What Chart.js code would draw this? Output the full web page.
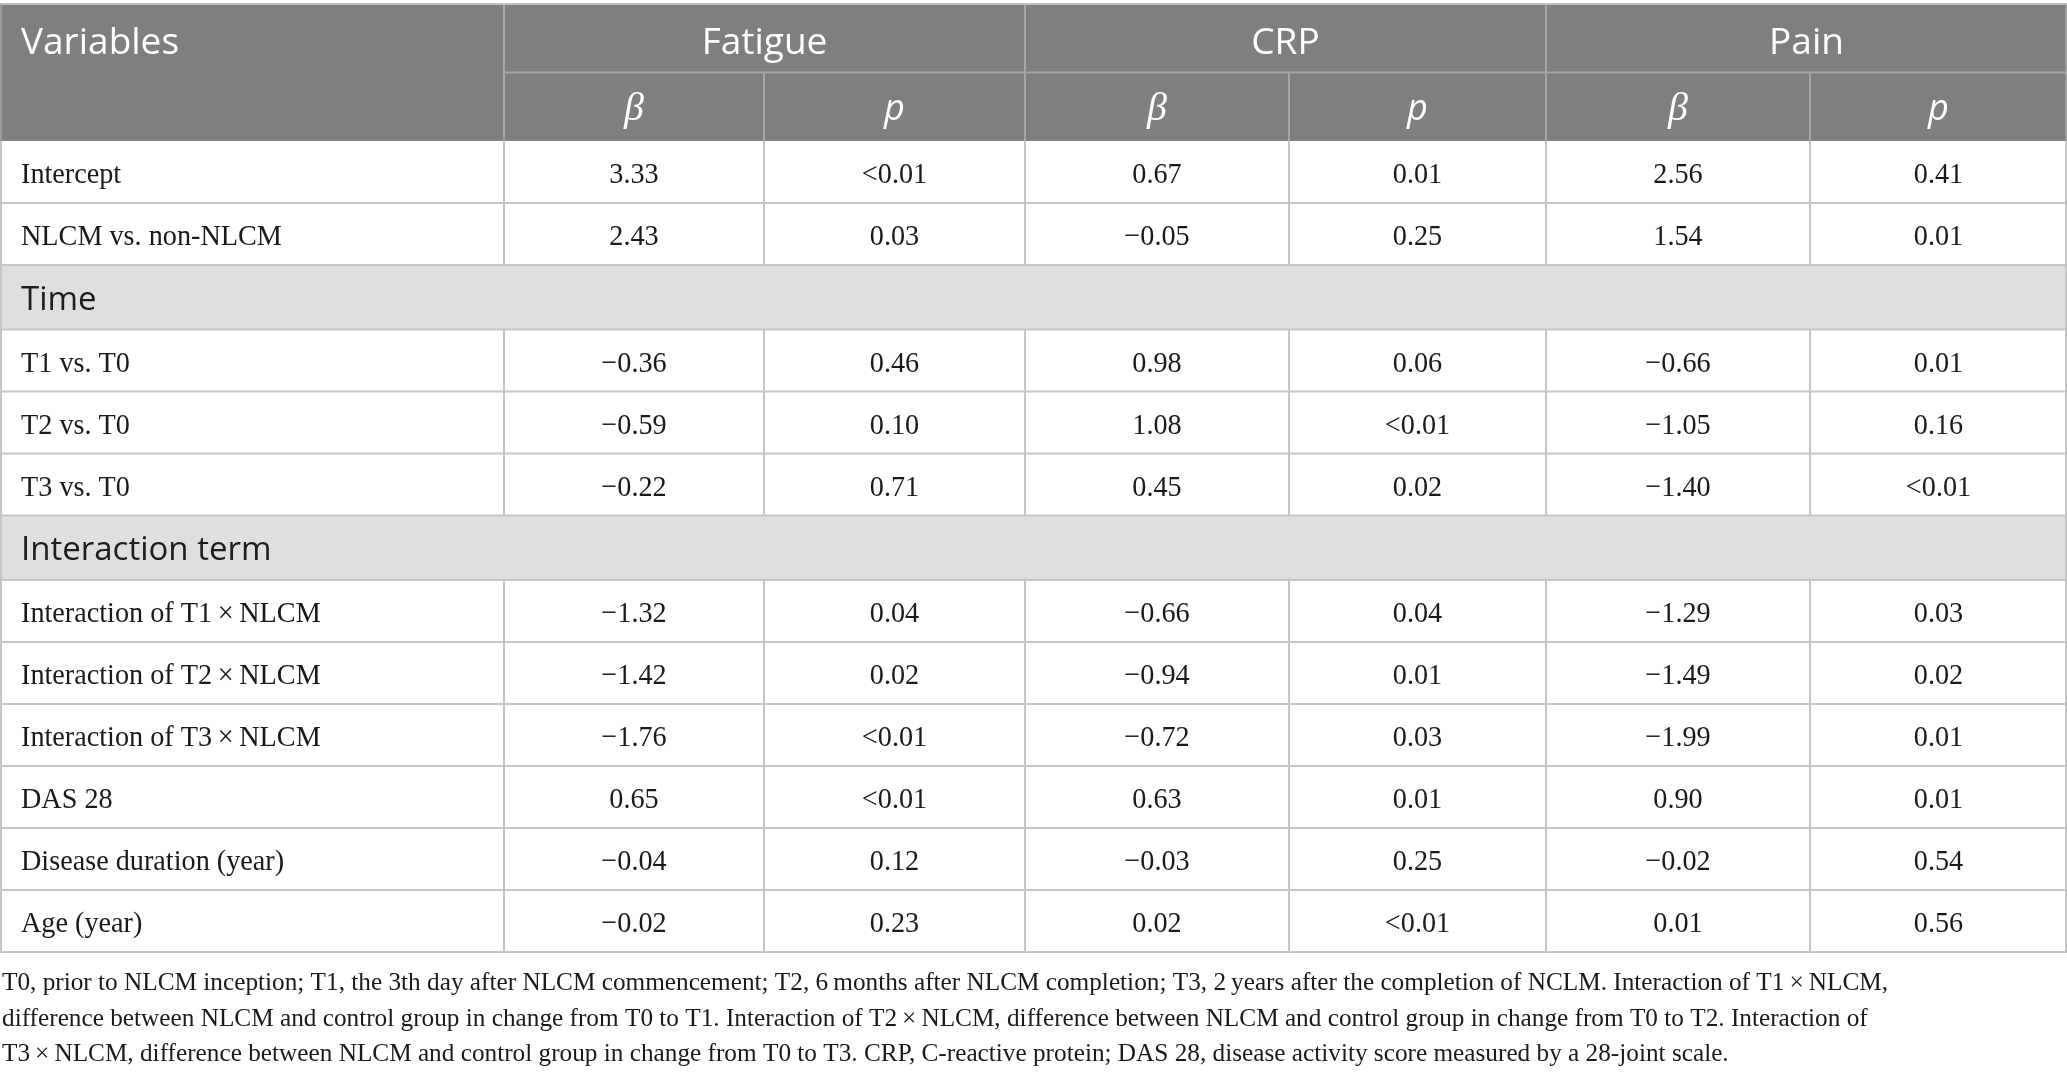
<!DOCTYPE html>
<html>
<head>
<meta charset="utf-8">
<script src="https://cdn.jsdelivr.net/npm/chart.js@4"></script>
<style>
html,body{margin:0;padding:0;background:#fff;}
#wrap{width:2067px;height:1080px;position:relative;}
canvas{display:block;}
</style>
</head>
<body>
<div id="wrap"><canvas id="c" width="2067" height="1080"></canvas></div>
<script>
// ---- data ----
const categories = ["Intercept", "NLCM vs. non-NLCM", "Time", "T1 vs. T0", "T2 vs. T0", "T3 vs. T0",
  "Interaction term", "Interaction of T1\u2009\u00d7\u2009NLCM", "Interaction of T2\u2009\u00d7\u2009NLCM",
  "Interaction of T3\u2009\u00d7\u2009NLCM", "DAS 28", "Disease duration (year)", "Age (year)"];
const sectionRows = ["Time", "Interaction term"];
const headerFirst = "Variables";
const outcomes = ["Fatigue", "CRP", "Pain"];
const statLabels = ["\u03b2", "p"];
const fatigueBeta = ["3.33", "2.43", "", "\u22120.36", "\u22120.59", "\u22120.22", "", "\u22121.32", "\u22121.42", "\u22121.76", "0.65", "\u22120.04", "\u22120.02"];
const fatigueP    = ["<0.01", "0.03", "", "0.46", "0.10", "0.71", "", "0.04", "0.02", "<0.01", "<0.01", "0.12", "0.23"];
const crpBeta     = ["0.67", "\u22120.05", "", "0.98", "1.08", "0.45", "", "\u22120.66", "\u22120.94", "\u22120.72", "0.63", "\u22120.03", "0.02"];
const crpP        = ["0.01", "0.25", "", "0.06", "<0.01", "0.02", "", "0.04", "0.01", "0.03", "0.01", "0.25", "<0.01"];
const painBeta    = ["2.56", "1.54", "", "\u22120.66", "\u22121.05", "\u22121.40", "", "\u22121.29", "\u22121.49", "\u22121.99", "0.90", "\u22120.02", "0.01"];
const painP       = ["0.41", "0.01", "", "0.01", "0.16", "<0.01", "", "0.03", "0.02", "0.01", "0.01", "0.54", "0.56"];
const footnoteLines = [
  "T0, prior to NLCM inception; T1, the 3th day after NLCM commencement; T2, 6\u2009months after NLCM completion; T3, 2\u2009years after the completion of NCLM. Interaction of T1\u2009\u00d7\u2009NLCM,",
  "difference between NLCM and control group in change from T0 to T1. Interaction of T2\u2009\u00d7\u2009NLCM, difference between NLCM and control group in change from T0 to T2. Interaction of",
  "T3\u2009\u00d7\u2009NLCM, difference between NLCM and control group in change from T0 to T3. CRP, C-reactive protein; DAS 28, disease activity score measured by a 28-joint scale."
];

// ---- layout (scale units) ----
const colEdges = [0, 504, 764, 1025, 1289, 1546, 1810, 2067];
const tableTop = 4, headerRowH = 68.5, dataRowH = 62, sectionRowH = 64.5;
const footBaselines = [990, 1026, 1061];
const valueCols = [fatigueBeta, fatigueP, crpBeta, crpP, painBeta, painP];

// row tops
const rowTops = [];
let yy = tableTop + 2 * headerRowH;
categories.forEach(c => { rowTops.push(yy); yy += sectionRows.includes(c) ? sectionRowH : dataRowH; });
const tableBottom = yy;

// invisible anchor points at cell centres
const points = [];
categories.forEach((c, r) => {
  const h = sectionRows.includes(c) ? sectionRowH : dataRowH;
  valueCols.forEach((col, k) => {
    if (col[r] !== "") points.push({x: (colEdges[k + 1] + colEdges[k + 2]) / 2, y: rowTops[r] + h / 2});
  });
});

function sText(ctx, t, x, y, sx, align) {
  ctx.save();
  ctx.translate(x, y);
  ctx.scale(sx, 1);
  ctx.textAlign = align;
  ctx.fillText(t, 0, 0);
  ctx.restore();
}

const tablePlugin = {
  id: 'tablePlugin',
  afterDraw(chart) {
    const ctx = chart.ctx, X = chart.scales.x, Y = chart.scales.y;
    const px = v => X.getPixelForValue(v), py = v => Y.getPixelForValue(v);
    ctx.save();
    const W0 = px(colEdges[0]), W1 = px(colEdges[colEdges.length - 1]);
    const hTop = py(tableTop), hMid = py(tableTop + headerRowH), hBot = py(tableTop + 2 * headerRowH);
    // header background
    ctx.fillStyle = '#7f7f7f';
    ctx.fillRect(W0, hTop, W1 - W0, hBot - hTop);
    // section backgrounds
    categories.forEach((c, r) => {
      if (sectionRows.includes(c)) {
        ctx.fillStyle = '#e0dfe0';
        ctx.fillRect(W0, py(rowTops[r]), W1 - W0, py(rowTops[r] + sectionRowH) - py(rowTops[r]));
      }
    });
    // header lines
    ctx.strokeStyle = '#a6a6a6'; ctx.lineWidth = 2;
    ctx.beginPath();
    ctx.moveTo(px(colEdges[1]), hMid); ctx.lineTo(W1, hMid);
    [1, 3, 5].forEach(i => { ctx.moveTo(px(colEdges[i]), hTop); ctx.lineTo(px(colEdges[i]), hBot); });
    [2, 4, 6].forEach(i => { ctx.moveTo(px(colEdges[i]), hMid); ctx.lineTo(px(colEdges[i]), hBot); });
    ctx.stroke();
    // top border
    ctx.strokeStyle = '#bfbfbf'; ctx.lineWidth = 2;
    ctx.beginPath(); ctx.moveTo(W0, hTop); ctx.lineTo(W1, hTop); ctx.stroke();
    // body lines
    ctx.strokeStyle = '#c6c6c6'; ctx.lineWidth = 2;
    ctx.beginPath();
    categories.forEach((c, r) => {
      const h = sectionRows.includes(c) ? sectionRowH : dataRowH;
      const y0 = py(rowTops[r]), y1 = py(rowTops[r] + h);
      ctx.moveTo(W0, y1); ctx.lineTo(W1, y1);
      if (!sectionRows.includes(c)) {
        for (let i = 1; i < colEdges.length - 1; i++) { ctx.moveTo(px(colEdges[i]), y0); ctx.lineTo(px(colEdges[i]), y1); }
      }
    });
    ctx.moveTo(W0 + 1, hBot); ctx.lineTo(W0 + 1, py(tableBottom));
    ctx.moveTo(W1 - 1, hBot); ctx.lineTo(W1 - 1, py(tableBottom));
    ctx.stroke();
    ctx.lineWidth = 1.5; ctx.strokeStyle = '#a6a6a6';
    ctx.beginPath(); ctx.moveTo(W0 + 1, hTop); ctx.lineTo(W0 + 1, hBot); ctx.moveTo(W1 - 1, hTop); ctx.lineTo(W1 - 1, hBot); ctx.stroke();

    // header text
    ctx.fillStyle = '#ffffff';
    ctx.textBaseline = 'alphabetic';
    ctx.font = '37px "Open Sans"';
    sText(ctx, headerFirst, px(21), py(54), 1, 'left');
    outcomes.forEach((o, k) => {
      sText(ctx, o, (px(colEdges[1 + 2 * k]) + px(colEdges[3 + 2 * k])) / 2, py(54), 1, 'center');
    });
    for (let k = 0; k < 6; k++) {
      const cx = (px(colEdges[1 + k]) + px(colEdges[2 + k])) / 2;
      if (k % 2 === 0) { ctx.font = 'italic 40px "Liberation Serif"'; sText(ctx, statLabels[0], cx, py(120), 1, 'center'); }
      else { ctx.font = 'italic 36px "Open Sans"'; sText(ctx, statLabels[1], cx, py(120), 1, 'center'); }
    }
    // body text
    categories.forEach((c, r) => {
      const isSec = sectionRows.includes(c);
      const h = isSec ? sectionRowH : dataRowH;
      const cy = rowTops[r] + h / 2;
      if (isSec) {
        ctx.fillStyle = '#1e1e1e'; ctx.font = '33px "Open Sans"';
        sText(ctx, c, px(21), py(cy + 12.5), 1, 'left');
      } else {
        ctx.fillStyle = '#1a1a1a'; ctx.font = '30px "Liberation Serif"';
        sText(ctx, c, px(21), py(cy + 11), 0.94, 'left');
        valueCols.forEach((col, k) => {
          sText(ctx, col[r], (px(colEdges[1 + k]) + px(colEdges[2 + k])) / 2, py(cy + 11), 0.94, 'center');
        });
      }
    });
    // footnote
    ctx.fillStyle = '#1a1a1a';
    ctx.font = '26px "Liberation Serif"';
    const w = ctx.measureText(footnoteLines[0]).width;
    const sx = 1886 / w;
    footnoteLines.forEach((l, i) => sText(ctx, l, px(2), py(footBaselines[i]), sx, 'left'));
    ctx.restore();
  }
};

new Chart(document.getElementById('c'), {
  type: 'scatter',
  data: { datasets: [{ data: points, pointRadius: 0, showLine: false }] },
  options: {
    responsive: false, animation: false, devicePixelRatio: 1,
    layout: { padding: 0 },
    plugins: { legend: { display: false }, tooltip: { enabled: false } },
    scales: {
      x: { type: 'linear', min: 0, max: 2067, display: false },
      y: { type: 'linear', min: 0, max: 1080, reverse: true, display: false }
    }
  },
  plugins: [tablePlugin]
});
</script>
</body>
</html>
